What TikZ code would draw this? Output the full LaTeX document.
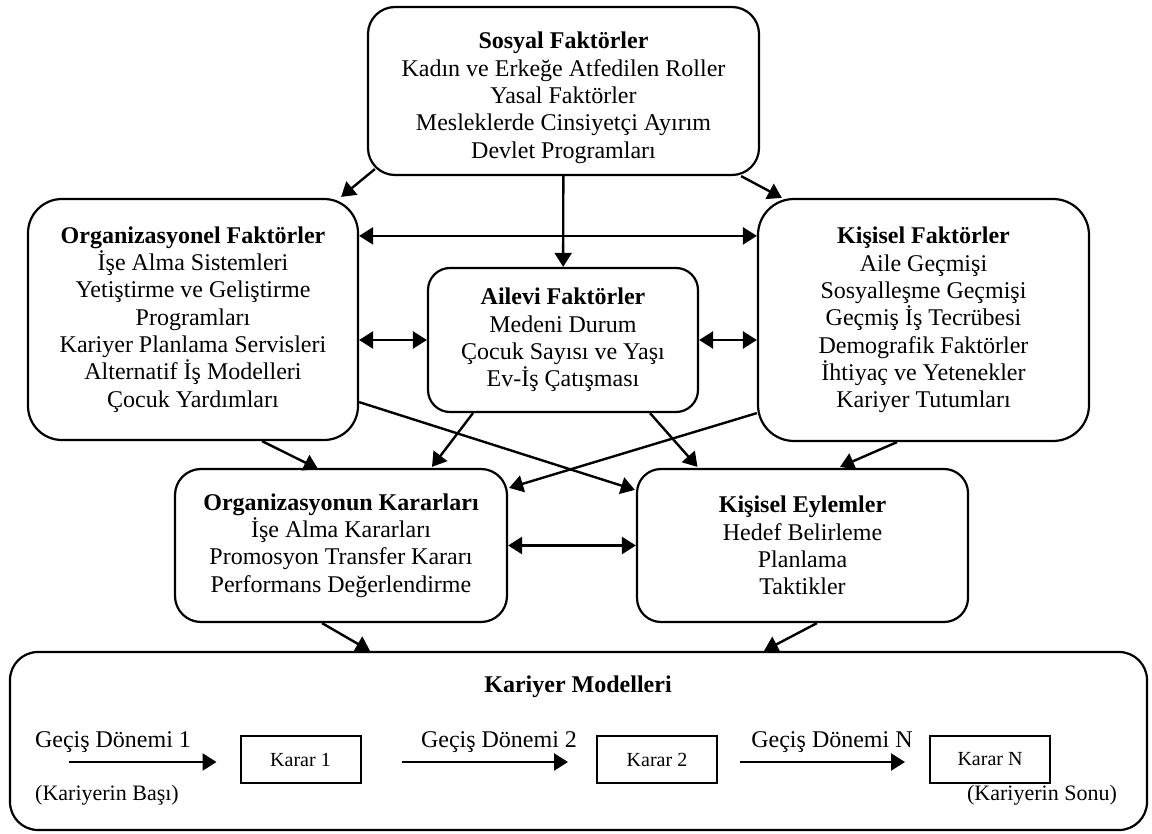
\documentclass[tikz,border=0pt]{standalone}
\usepackage{fontspec}
\setmainfont{Liberation Serif}
\usetikzlibrary{arrows.meta}

\begin{document}
\begin{tikzpicture}[x=0.5pt, y=-0.5pt,
                    box/.style={draw, line width=1.1pt, align=center, inner sep=0pt,
                                font=\fontsize{12}{13.65}\selectfont},
                    karar/.style={draw, line width=1pt, minimum width=60pt, minimum height=23.5pt,
                                  font=\fontsize{10}{12}\selectfont},
                    arrow/.style={-{Triangle[length=7pt,width=8.5pt]}, line width=1.2pt},
                    dblarrow/.style={{Triangle[length=7pt,width=8.5pt]}-{Triangle[length=7pt,width=8.5pt]}, line width=1.2pt}]
\useasboundingbox (0,0) rectangle (1152,834);
\node[box, rounded corners=13.5pt, minimum width=195.5pt, minimum height=84pt] (sosyal) at (563.5,91)
    {\rule{0pt}{15pt}\textbf{Sosyal Faktörler}\\Kadın ve Erkeğe Atfedilen Roller\\Yasal Faktörler\\Mesleklerde Cinsiyetçi Ayırım\\Devlet Programları};
\node[box, rounded corners=17pt, minimum width=165pt, minimum height=120.5pt] (org) at (193,319.5)
    {\textbf{Organizasyonel Faktörler}\\İşe Alma Sistemleri\\Yetiştirme ve Geliştirme\\Programları\\Kariyer Planlama Servisleri\\Alternatif İş Modelleri\\Çocuk Yardımları};
\node[box, rounded corners=11pt, minimum width=135pt, minimum height=72pt] (ailevi) at (563,340)
    {\textbf{Ailevi Faktörler}\\Medeni Durum\\Çocuk Sayısı ve Yaşı\\Ev-İş Çatışması};
\node[box, rounded corners=18pt, minimum width=165.5pt, minimum height=121pt] (kisisel) at (923.5,320)
    {\textbf{Kişisel Faktörler}\\Aile Geçmişi\\Sosyalleşme Geçmişi\\Geçmiş İş Tecrübesi\\Demografik Faktörler\\İhtiyaç ve Yetenekler\\Kariyer Tutumları};
\node[box, rounded corners=13pt, minimum width=166pt, minimum height=76.5pt] (orgkarar) at (341,545.5)
    {\textbf{Organizasyonun Kararları}\\İşe Alma Kararları\\Promosyon Transfer Kararı\\Performans Değerlendirme};
\node[box, rounded corners=12pt, minimum width=165.5pt, minimum height=76.5pt] (eylem) at (802.5,545.5)
    {\textbf{Kişisel Eylemler}\\Hedef Belirleme\\Planlama\\Taktikler};
\node[box, rounded corners=14pt, minimum width=568.5pt, minimum height=89pt] (kariyer) at (578.5,741) {};
\node[font=\fontsize{12}{14}\selectfont\bfseries] (kmtitle) at (578,687) {Kariyer Modelleri};
\node[karar] (k1) at (300.5,759.5) {Karar 1};
\node[karar] (k2) at (657,759.5) {Karar 2};
\node[karar] (kn) at (990,759.5) {Karar N};
\node[font=\fontsize{12}{14}\selectfont] (g1) at (113,742) {Geçiş Dönemi 1};
\node[font=\fontsize{12}{14}\selectfont] (g2) at (499,742) {Geçiş Dönemi 2};
\node[font=\fontsize{12}{14}\selectfont] (gn) at (832,742) {Geçiş Dönemi N};
\node[font=\fontsize{11}{13}\selectfont] (basi) at (107,795) {(Kariyerin Başı)};
\node[font=\fontsize{11}{13}\selectfont] (sonu) at (1042,795) {(Kariyerin Sonu)};
\coordinate (g0) at (69,762);
\draw[arrow] ([shift={(8,-7)}]sosyal.south west) -- ([shift={(-18,-1)}]org.north east);
\draw[arrow] (sosyal) -- (ailevi);
\draw[arrow] ([shift={(-19,0)}]sosyal.south east) -- ([shift={(25,0)}]kisisel.north west);
\draw[dblarrow] ([shift={(0,38)}]org.north east) -- ([shift={(0,38)}]kisisel.north west);
\draw[dblarrow] (ailevi.west -| org.east) -- (ailevi.west);
\draw[dblarrow] (ailevi.east) -- (ailevi.east -| kisisel.west);
\draw[arrow] ([shift={(69,0)}]org.south) -- ([shift={(-23,1)}]orgkarar.north);
\draw[arrow] ([shift={(0,-39)}]org.south east) -- ([shift={(-1,22)}]eylem.north west);
\draw[arrow] ([shift={(-90,0)}]ailevi.south) -- ([shift={(91,-1)}]orgkarar.north);
\draw[arrow] ([shift={(87,0)}]ailevi.south) -- ([shift={(-105,-1)}]eylem.north);
\draw[arrow] ([shift={(0,-29)}]kisisel.south west) -- ([shift={(1,20)}]orgkarar.north east);
\draw[arrow] ([shift={(-26.5,0)}]kisisel.south) -- ([shift={(37.5,-1)}]eylem.north);
\draw[dblarrow] (orgkarar) -- (eylem);
\draw[arrow] ([shift={(-19,0)}]orgkarar.south) -- ([shift={(-208.5,0)}]kariyer.north);
\draw[arrow] ([shift={(14.5,0)}]eylem.south) -- ([shift={(185.5,0)}]kariyer.north);
\draw[arrow, shorten >=11.5pt] (g0) -- (k1.west |- g0);
\draw[arrow, shorten <=20pt, shorten >=14pt] (k1.east |- g0) -- (k2.west |- g0);
\draw[arrow, shorten <=11pt, shorten >=12pt] (k2.east |- g0) -- (kn.west |- g0);
\end{tikzpicture}
\end{document}
